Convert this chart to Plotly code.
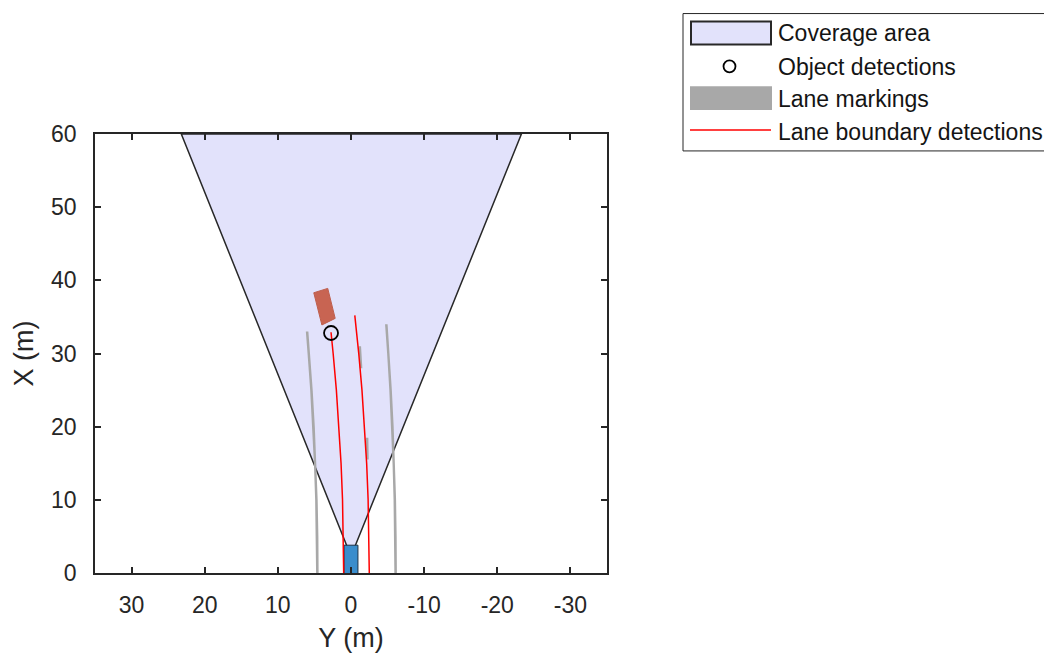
import plotly.graph_objects as go

# ---- data (Y lateral in m, X longitudinal in m) ----
coverage_y = [0.0, 23.2, -23.3, 0.0]
coverage_x = [2.3, 60.0, 60.0, 2.3]

det_y = [2.73]
det_x = [32.8]

# lane markings (left / right solid, plus visible center dashes)
lm_x_left = [0, 5, 10, 15, 20, 25, 30, 33]
lm_y_left = [4.6, 4.63, 4.73, 4.9, 5.12, 5.41, 5.77, 6.0]
lm_x_right = [0, 5, 10, 15, 20, 25, 30, 34]
lm_y_right = [-6.1, -6.07, -5.99, -5.85, -5.66, -5.41, -5.11, -4.83]
dash1_x = [15.5, 18.5]
dash1_y = [-2.25, -2.2]
dash2_x = [28.0, 31.0]
dash2_y = [-1.38, -1.2]
marking_width = 0.35

# lane boundary detections
lb_x_left = [0, 5, 10, 15, 20, 25, 30, 32.9]
lb_y_left = [1.0, 1.04, 1.16, 1.36, 1.64, 2.0, 2.44, 2.73]
lb_x_right = [0, 5, 10, 15, 20, 25, 30, 35.2]
lb_y_right = [-2.5, -2.46, -2.34, -2.14, -1.86, -1.5, -1.06, -0.52]

# ego vehicle and target vehicle outlines
ego_y = [0.95, -0.95, -0.95, 0.95, 0.95]
ego_x = [-1.0, -1.0, 3.8, 3.8, -1.0]
car_y = [5.09, 3.18, 2.16, 3.98, 5.09]
car_x = [38.3, 38.9, 34.8, 33.9, 38.3]

y_ticks = [30, 20, 10, 0, -10, -20, -30]
x_ticks = [0, 10, 20, 30, 40, 50, 60]

legend_labels = ["Coverage area", "Object detections", "Lane markings",
                 "Lane boundary detections"]

COV_FILL = "rgb(226,226,251)"
COV_EDGE = "rgb(40,40,40)"
MARK_FILL = "rgb(168,168,168)"
RED = "rgb(255,0,0)"


def band(xs, ys, w):
    """polygon of a marking strip of width w around a centre line"""
    left = [y + w / 2 for y in ys]
    right = [y - w / 2 for y in ys]
    return left + right[::-1] + [left[0]], list(xs) + list(xs)[::-1] + [xs[0]]


mk_y, mk_x = [], []
for xs, ys in [(lm_x_left, lm_y_left), (lm_x_right, lm_y_right),
               (dash1_x, dash1_y), (dash2_x, dash2_y)]:
    py_, px_ = band(xs, ys, marking_width)
    mk_y += py_ + [None]
    mk_x += px_ + [None]

FONT = "Liberation Sans, Arial, sans-serif"
AX = "rgb(38,38,38)"

fig = go.Figure()

fig.add_trace(go.Scatter(
    x=coverage_y, y=coverage_x, mode="lines", fill="toself",
    fillcolor=COV_FILL, line=dict(color=COV_EDGE, width=1.5),
    name=legend_labels[0], showlegend=False))

fig.add_trace(go.Scatter(
    x=mk_y, y=mk_x, mode="lines", fill="toself",
    fillcolor=MARK_FILL, line=dict(color="rgba(168,168,168,0)", width=0),
    name=legend_labels[2], showlegend=False))

fig.add_trace(go.Scatter(
    x=ego_y, y=ego_x, mode="lines", fill="toself",
    fillcolor="rgb(58,141,204)", line=dict(color="rgb(30,50,70)", width=1),
    showlegend=False, hoverinfo="skip"))

fig.add_trace(go.Scatter(
    x=car_y, y=car_x, mode="lines", fill="toself",
    fillcolor="rgb(200,100,82)", line=dict(color="rgb(190,95,78)", width=1),
    showlegend=False, hoverinfo="skip"))

fig.add_trace(go.Scatter(
    x=lb_y_left + [None] + lb_y_right, y=lb_x_left + [None] + lb_x_right,
    mode="lines", line=dict(color=RED, width=1.5),
    name=legend_labels[3], showlegend=False))

fig.add_trace(go.Scatter(
    x=det_y, y=det_x, mode="markers",
    marker=dict(symbol="circle-open", size=14, color="black", line=dict(width=1.8)),
    name=legend_labels[1], showlegend=False))

# ---- hand-drawn legend (MATLAB style), positioned in screen pixels ----
PX0, PX1, PY0, PY1 = 95, 607, 134, 575   # plot area on screen


def px(sx):
    return (sx - PX0) / (PX1 - PX0)


def py(sy):
    return (PY1 - sy) / (PY1 - PY0)


shapes = [
    dict(type="rect", xref="paper", yref="paper", x0=px(683), x1=px(1049),
         y0=py(151), y1=py(13), line=dict(color=AX, width=1), fillcolor="white",
         layer="above"),
    dict(type="rect", xref="paper", yref="paper", x0=px(691), x1=px(771),
         y0=py(44), y1=py(21), line=dict(color=COV_EDGE, width=2), fillcolor=COV_FILL,
         layer="above"),
    dict(type="circle", xref="paper", yref="paper", x0=px(723.5), x1=px(735.5),
         y0=py(72), y1=py(60), line=dict(color="black", width=1.8), layer="above"),
    dict(type="rect", xref="paper", yref="paper", x0=px(690), x1=px(772),
         y0=py(110), y1=py(86), line=dict(width=0), fillcolor=MARK_FILL,
         layer="above"),
    dict(type="line", xref="paper", yref="paper", x0=px(690), x1=px(771),
         y0=py(130), y1=py(130), line=dict(color=RED, width=1.5), layer="above"),
]
annotations = []
for lab, cy in zip(legend_labels, [33, 67, 99, 132]):
    annotations.append(dict(
        xref="paper", yref="paper", x=px(776), y=py(cy), xanchor="left",
        yanchor="middle", text=lab, showarrow=False,
        font=dict(family=FONT, size=23, color="rgb(20,20,20)")))

fig.update_layout(
    width=1044, height=652,
    margin=dict(l=87, r=445, t=126, b=85),
    paper_bgcolor="white", plot_bgcolor="white",
    font=dict(family=FONT, size=22, color=AX),
    showlegend=False,
    shapes=shapes, annotations=annotations,
    xaxis=dict(
        range=[35, -35], tickvals=y_ticks, ticktext=[str(v) for v in y_ticks],
        showgrid=False, zeroline=False, showline=True, linecolor=AX, linewidth=1.5,
        mirror="ticks", ticks="inside", ticklen=6, tickcolor=AX, tickwidth=1.5,
        title=dict(text="Y (m)", font=dict(size=27), standoff=11),
        tickfont=dict(size=23), ticklabelstandoff=11,
    ),
    yaxis=dict(
        range=[0, 60], tickvals=x_ticks,
        showgrid=False, zeroline=False, showline=True, linecolor=AX, linewidth=1.5,
        mirror="ticks", ticks="inside", ticklen=6, tickcolor=AX, tickwidth=1.5,
        title=dict(text="X (m)", font=dict(size=27), standoff=10),
        tickfont=dict(size=23), ticklabelstandoff=12,
    ),
)

fig.write_html("out.html")
